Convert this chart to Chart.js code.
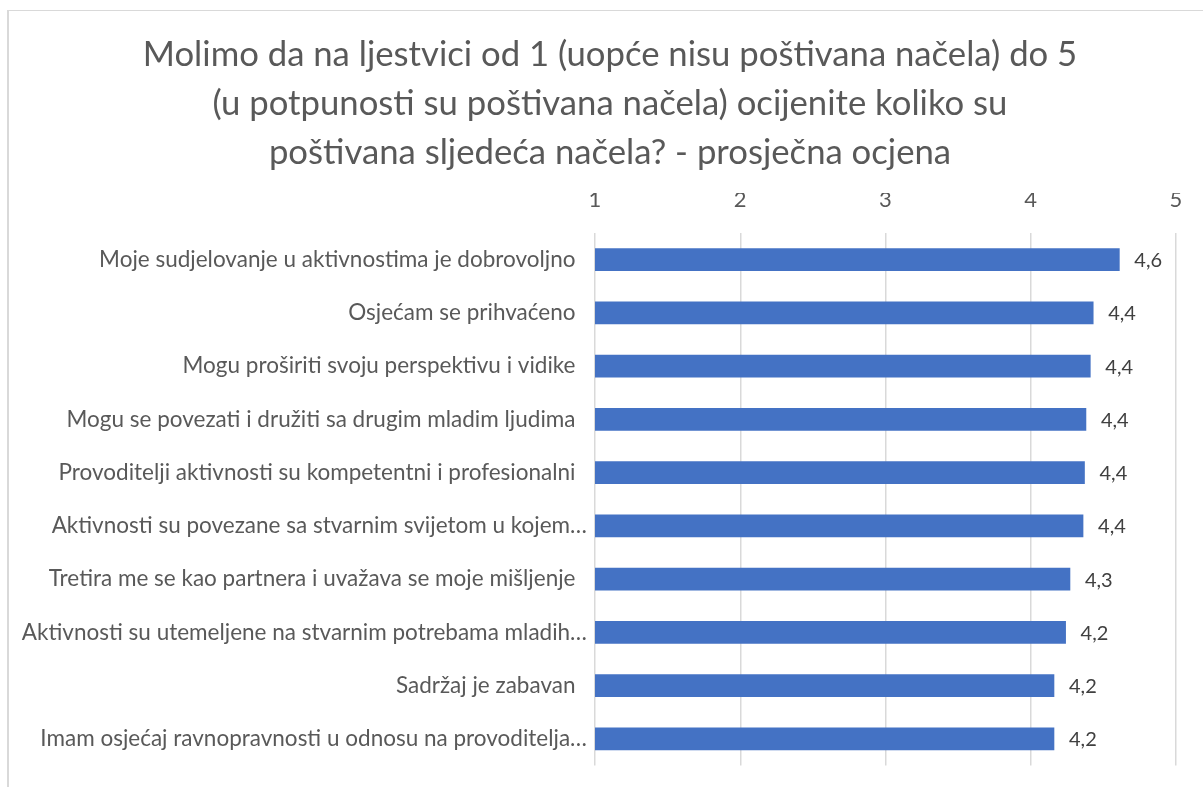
<!DOCTYPE html>
<html>
<head>
<meta charset="utf-8">
<script src="https://cdn.jsdelivr.net/npm/chart.js@4/dist/chart.umd.min.js"></script>
<style>
  html, body { margin: 0; padding: 0; background: #fff; }
  #wrap { position: relative; width: 1203px; height: 787px; overflow: hidden; }
  #frame { position: absolute; left: 7px; top: 10px; width: 1400px; height: 900px;
           border-top: 1px solid #d9d9d9; border-left: 2px solid #d9d9d9; }
  canvas { position: absolute; left: 0; top: 0; }
</style>
</head>
<body>
<div id="wrap">
  <div id="frame"></div>
  <canvas id="chart" width="1203" height="787"></canvas>
</div>
<script>
const titleLines = [
    'Molimo da na ljestvici od 1 (uopće nisu poštivana načela) do 5',
    '(u potpunosti su poštivana načela) ocijenite koliko su',
    'poštivana sljedeća načela? - prosječna ocjena'
];

const categories = [
    'Moje sudjelovanje u aktivnostima je dobrovoljno  ',
    'Osjećam se prihvaćeno  ',
    'Mogu proširiti svoju perspektivu i vidike  ',
    'Mogu se povezati i družiti sa drugim mladim ljudima  ',
    'Provoditelji aktivnosti su kompetentni i profesionalni  ',
    'Aktivnosti su povezane sa stvarnim svijetom u kojem…',
    'Tretira me se kao partnera i uvažava se moje mišljenje  ',
    'Aktivnosti su utemeljene na stvarnim potrebama mladih…',
    'Sadržaj je zabavan  ',
    'Imam osjećaj ravnopravnosti u odnosu na provoditelja…'
];

const averages = [4.61, 4.43, 4.41, 4.38, 4.37, 4.36, 4.27, 4.24, 4.16, 4.16];

const tickValues = [1, 2, 3, 4, 5];

const FONT = 'Lato, "Open Sans", sans-serif';

// title drawn by hand so the three lines sit where they should
const titlePlugin = {
    id: 'titleLines',
    afterDraw(chart) {
        const ctx = chart.ctx;
        ctx.save();
        ctx.font = '34.7px ' + FONT;
        ctx.fillStyle = '#595959';
        ctx.textAlign = 'center';
        ctx.textBaseline = 'middle';
        titleLines.forEach((line, i) => {
            ctx.fillText(line, 610, 55 + i * 49);
        });
        ctx.restore();
    }
};

// value labels at the end of each bar, decimal comma
const valueLabels = {
    id: 'valueLabels',
    afterDatasetsDraw(chart) {
        const ctx = chart.ctx;
        const meta = chart.getDatasetMeta(0);
        ctx.save();
        ctx.font = '20px ' + FONT;
        ctx.fillStyle = '#404040';
        ctx.textAlign = 'left';
        ctx.textBaseline = 'middle';
        meta.data.forEach((bar, i) => {
            const txt = averages[i].toFixed(1).replace('.', ',');
            ctx.fillText(txt, bar.x + 15, bar.y + 1);
        });
        ctx.restore();
    }
};

const config = {
    type: 'bar',
    data: {
        labels: categories,
        datasets: [{
            data: averages,
            backgroundColor: '#4472C4',
            borderWidth: 0,
            barThickness: 22
        }]
    },
    options: {
        indexAxis: 'y',
        responsive: false,
        animation: false,
        layout: {
            padding: { top: 193, right: 27, bottom: 20, left: 0 }
        },
        plugins: {
            legend: { display: false },
            title: { display: false },
            tooltip: { enabled: false }
        },
        scales: {
            x: {
                position: 'top',
                min: tickValues[0],
                max: tickValues[tickValues.length - 1],
                afterBuildTicks(scale) {
                    scale.ticks = tickValues.map(v => ({ value: v }));
                },
                afterFit(scale) {
                    scale.height = 40;
                },
                grid: {
                    color: '#d9d9d9',
                    lineWidth: 1.5,
                    drawTicks: false
                },
                border: { display: false },
                ticks: {
                    padding: 20,
                    color: '#595959',
                    font: { family: FONT, size: 22 }
                }
            },
            y: {
                afterFit(scale) {
                    scale.width = 595;
                },
                grid: { display: false, drawTicks: false },
                border: { display: false },
                ticks: {
                    padding: 8,
                    autoSkip: false,
                    color: '#595959',
                    font: { family: FONT, size: 22.5 }
                }
            }
        }
    },
    plugins: [titlePlugin, valueLabels]
};

const chart = new Chart(document.getElementById('chart'), config);
</script>
</body>
</html>
